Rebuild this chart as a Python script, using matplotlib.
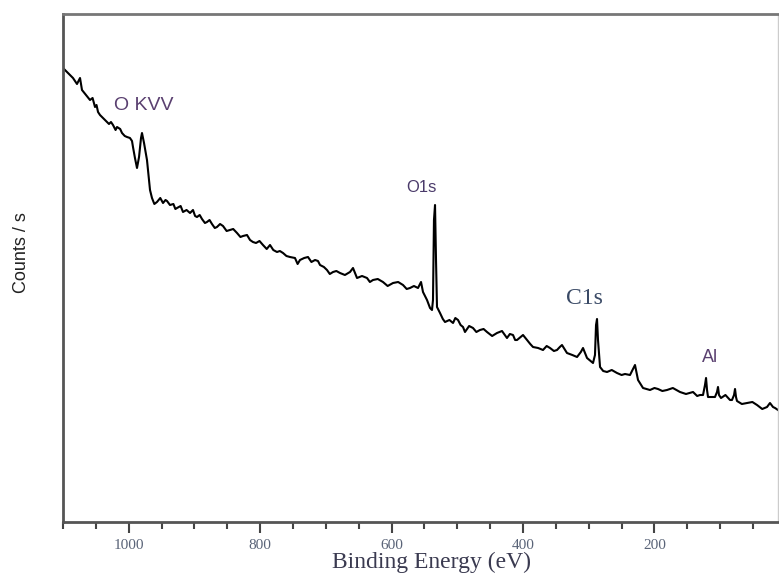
import matplotlib
matplotlib.use("Agg")
import matplotlib.pyplot as plt
from matplotlib.ticker import MultipleLocator

# Binding energy (eV) and counts (arbitrary units)
energy_main = [1100, 1092.4, 1084.8, 1078.7, 1074.1, 1071.1, 1065.0, 1058.9, 1051.3, 1046.7,
               1043.7, 1039.1, 1036.1, 1030.0, 1023.9, 1017.8, 1010.2, 1002.6, 998.1, 993.5,
               990.5, 987.4, 984.3, 981.3, 979.8, 976.7, 972.2, 967.6, 964.6, 957.0,
               947.8, 941.7, 937.2, 926.5, 917.4, 906.7, 902.2, 896.1, 888.5, 880.9,
               873.3, 865.7, 856.5, 845.9, 835.2, 826.1, 815.4, 806.3, 795.7, 785.0,
               774.4, 765.2, 754.6, 739.4, 727.2, 716.5, 708.9, 698.3, 689.1, 678.5,
               663.3, 658.7, 652.6, 637.4, 628.3, 613.1, 597.8, 582.6, 572.0, 559.8,
               555.2, 552.2, 546.1, 541.5, 538.5, 537.0, 535.5, 533.9, 532.4, 530.9,
               526.3, 518.7, 506.5, 498.9, 491.3, 488.3, 476.1, 465.5, 454.8, 439.6,
               424.4, 415.2, 409.1, 400.0, 393.9, 384.8, 369.6, 358.9, 348.3, 340.7,
               333.1, 317.8, 308.7, 302.6, 293.5, 290.5, 288.9, 287.4, 285.9, 282.8,
               272.2, 257.0, 244.8, 237.2, 229.6, 225.0, 217.4, 206.8, 194.6, 180.9,
               161.1, 141.3, 130.7, 126.1, 123.1, 121.5, 120.0, 118.5, 107.9, 104.8,
               103.3, 101.8, 98.7, 85.0, 78.9, 77.4, 75.9, 74.4, 59.2, 43.9,
               28.7, 24.2, 19.6, 16.5, 12.0]
counts_main = [454, 449, 444, 438, 444, 432, 427, 422, 415, 410,
               407, 404, 402, 398, 397, 395, 389, 385, 384, 375,
               364, 354, 365, 384, 389, 379, 362, 332, 324, 320,
               319, 321, 317, 314, 310, 309, 312, 305, 303, 300,
               298, 295, 296, 292, 289, 286, 282, 279, 277, 277,
               270, 269, 265, 262, 265, 262, 257, 252, 250, 249,
               250, 254, 244, 244, 242, 240, 239, 237, 234, 234,
               240, 230, 222, 214, 212, 222, 302, 317, 262, 215,
               209, 200, 199, 202, 195, 190, 194, 192, 190, 189,
               184, 187, 182, 187, 182, 175, 172, 174, 172, 177,
               169, 165, 174, 164, 159, 167, 197, 203, 182, 155,
               150, 149, 148, 147, 157, 142, 134, 132, 133, 132,
               130, 130, 127, 127, 137, 144, 132, 125, 125, 130,
               135, 127, 124, 122, 127, 133, 125, 121, 119, 117,
               115, 119, 115, 114, 112]

# finer wiggles of the noisy baseline
energy_fine = [1088, 1055, 1049, 1027, 1020, 1013, 1006, 995,
               961, 952, 944, 932, 929, 921, 912, 899, 892, 884, 877, 869,
               861, 851, 841, 830, 820, 811, 801, 790, 780, 770, 760, 747,
               743, 733, 722, 712, 703, 694, 684, 671, 660, 645, 633, 621,
               606, 590, 577, 566,
               522, 512, 503, 495, 482, 471, 460, 447, 432, 420, 412, 389,
               377, 364, 353, 344, 325, 312,
               278, 265, 250, 200, 188, 172, 152, 135, 92, 82, 67, 51, 36]
counts_fine = [446, 424, 417, 400, 392, 393, 386, 381,
               318, 324, 322, 318, 313, 316, 312, 306, 307, 299, 302, 294,
               298, 291, 293, 285, 287, 280, 281, 273, 272, 271, 266, 264,
               258, 264, 260, 261, 255, 248, 251, 247, 253, 246, 240, 243,
               236, 240, 233, 236,
               203, 202, 204, 197, 196, 190, 193, 186, 191, 188, 182, 178,
               174, 176, 171, 175, 167, 170,
               151, 152, 147, 134, 131, 134, 128, 126, 127, 122, 118, 120, 113]

xticks = [1000, 800, 600, 400, 200]
xtick_labels = ["1000", "800", "600", "400", "200"]

peak_labels = ["O KVV", "O1s", "C1s", "Al"]
peak_pos = [(977, 416), (554, 334), (306, 224), (115, 164)]

pairs = sorted(zip(energy_main + energy_fine, counts_main + counts_fine), reverse=True)
energy = [p[0] for p in pairs]
counts = [p[1] for p in pairs]

fig = plt.figure(figsize=(7.79, 5.76), dpi=100)
ax = fig.add_axes([63 / 779, 54 / 576, 715 / 779, 508 / 576])

ax.plot(energy, counts, color="black", lw=1.5)

ax.set_xlim(1100, 12)
ax.set_ylim(0, 508)
ax.set_xticks(xticks)
ax.set_xticklabels(xtick_labels, family="Liberation Serif", fontsize=11, color="#5a6478")
ax.xaxis.set_minor_locator(MultipleLocator(50))
ax.set_yticks([])
ax.tick_params(axis="x", which="major", direction="out", length=8, width=1.5,
               color="#444444", pad=4)
ax.tick_params(axis="x", which="minor", direction="out", length=5, width=1.5,
               color="#444444")
for side, sp in ax.spines.items():
    sp.set_color("#555555")
    sp.set_linewidth(2.0 if side in ("bottom", "left", "top") else 1.0)
ax.spines["top"].set_color("#777777")
ax.spines["right"].set_color("#cccccc")

ax.set_xlabel("Binding Energy (eV)", family="Liberation Serif", fontsize=17,
              color="#3a3a50")
ax.xaxis.set_label_coords(0.516, -0.058)
ax.set_ylabel("Counts / s", family="Liberation Sans", fontsize=13, color="#222222")
ax.yaxis.set_label_coords(-0.046, 0.53)

styles = [
    dict(family="Liberation Sans", fontsize=14, color="#5a4070"),
    dict(family="Liberation Sans", fontsize=12, color="#4a3a6a"),
    dict(family="Liberation Serif", fontsize=17, color="#3a4a66"),
    dict(family="Liberation Sans", fontsize=13, color="#5a4070"),
]
for lab, (xx, yy), st in zip(peak_labels, peak_pos, styles):
    ax.text(xx, yy, lab, ha="center", va="center", **st)

fig.savefig("out.png", dpi=100)
